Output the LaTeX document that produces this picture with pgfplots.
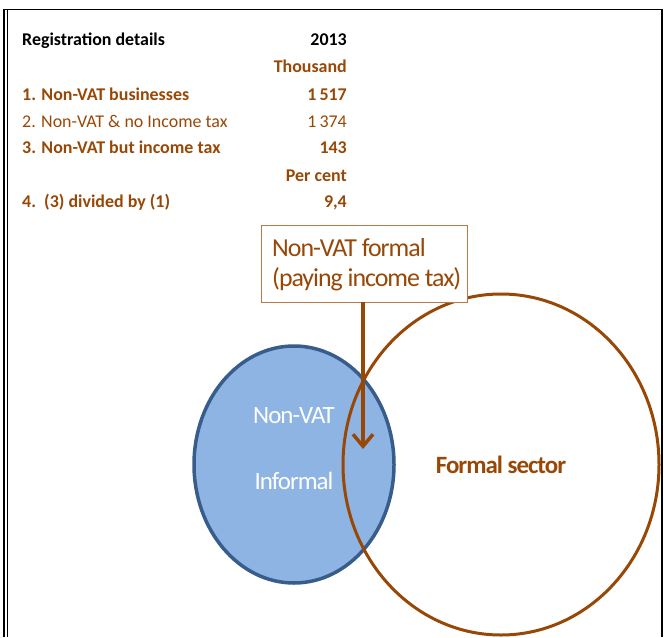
\documentclass[border=0pt]{standalone}
\usepackage{pgfplots}
\pgfplotsset{compat=1.18}
\usepackage{fontspec}
\setmainfont{Carlito}
\usetikzlibrary{arrows.meta}
\definecolor{brn}{RGB}{152,72,6}
\definecolor{boxbrn}{RGB}{190,120,70}
\definecolor{bfill}{RGB}{142,180,227}
\definecolor{bline}{RGB}{56,93,138}
\newfontfamily\tight[LetterSpace=-4]{Carlito}
\begin{document}
\begin{tikzpicture}
\begin{axis}[
  width=664bp, height=637bp, scale only axis,
  xmin=0, xmax=664, ymin=0, ymax=637, y dir=reverse,
  hide axis, clip=false,
]
% invisible bounding rectangle
\path (axis cs:0,0) rectangle (axis cs:664,637);
% frame
\draw[black, line width=2bp] (axis cs:3.5,9.5) -- (axis cs:3.5,637);
\draw[black, line width=1bp] (axis cs:7,9.5) -- (axis cs:7,637);
\draw[black, line width=1.5bp] (axis cs:3,9.5) -- (axis cs:662,9.5) -- (axis cs:662,637);
% table
\path (axis cs:22,46) node[anchor=base west, inner sep=0pt, font=\fontsize{18}{20}\selectfont\bfseries] {Registration details};
\path (axis cs:347,46) node[anchor=base east, inner sep=0pt, font=\fontsize{18}{20}\selectfont\bfseries] {2013};
\path (axis cs:347,73) node[anchor=base east, inner sep=0pt, text=brn, font=\fontsize{18}{20}\selectfont\bfseries] {Thousand};
\path (axis cs:22,100) node[anchor=base west, inner sep=0pt, text=brn, font=\fontsize{18}{20}\selectfont\bfseries] {1. Non-VAT businesses};
\path (axis cs:347,100) node[anchor=base east, inner sep=0pt, text=brn, font=\fontsize{18}{20}\selectfont\bfseries] {1\,517};
\path (axis cs:22,127) node[anchor=base west, inner sep=0pt, text=brn, font=\fontsize{18}{20}\selectfont] {2. Non-VAT \& no Income tax};
\path (axis cs:347,127) node[anchor=base east, inner sep=0pt, text=brn, font=\fontsize{18}{20}\selectfont] {1\,374};
\path (axis cs:22,153) node[anchor=base west, inner sep=0pt, text=brn, font=\fontsize{18}{20}\selectfont\bfseries] {3. Non-VAT but income tax};
\path (axis cs:347,153) node[anchor=base east, inner sep=0pt, text=brn, font=\fontsize{18}{20}\selectfont\bfseries] {143};
\path (axis cs:347,181) node[anchor=base east, inner sep=0pt, text=brn, font=\fontsize{18}{20}\selectfont\bfseries] {Per cent};
\path (axis cs:22,207) node[anchor=base west, inner sep=0pt, text=brn, font=\fontsize{18}{20}\selectfont\bfseries] {4.\ \ (3) divided by (1)};
\path (axis cs:347,207) node[anchor=base east, inner sep=0pt, text=brn, font=\fontsize{18}{20}\selectfont\bfseries] {9,4};
% circles
\draw[fill=bfill, draw=bline, line width=3.5bp] (axis cs:294,464.5) ellipse [x radius=100, y radius=118.5];
\draw[draw=brn, line width=3bp] (axis cs:501,464.5) ellipse [x radius=158, y radius=170.5];
% circle labels
\path (axis cs:294,423) node[anchor=base, inner sep=0pt, text=white, font=\fontsize{25}{28}\tight] {Non-VAT};
\path (axis cs:294,489) node[anchor=base, inner sep=0pt, text=white, font=\fontsize{25}{28}\tight] {Informal};
\path (axis cs:501,473) node[anchor=base, inner sep=0pt, text=brn, font=\fontsize{25}{28}\tight\bfseries] {Formal sector};
% box
\draw[draw=boxbrn, line width=1bp, fill=white] (axis cs:261,225) rectangle (axis cs:467,302);
\path (axis cs:272,256) node[anchor=base west, inner sep=0pt, text=brn, font=\fontsize{26}{28}\tight] {Non-VAT formal};
\path (axis cs:272,286) node[anchor=base west, inner sep=0pt, text=brn, font=\fontsize{26}{28}\tight] {(paying income tax)};
% arrow
\draw[draw=brn, line width=4bp, -{Straight Barb[length=12bp, width=20bp, line width=3.5bp]}] (axis cs:363,302) -- (axis cs:363,449);
\end{axis}
\end{tikzpicture}
\end{document}
